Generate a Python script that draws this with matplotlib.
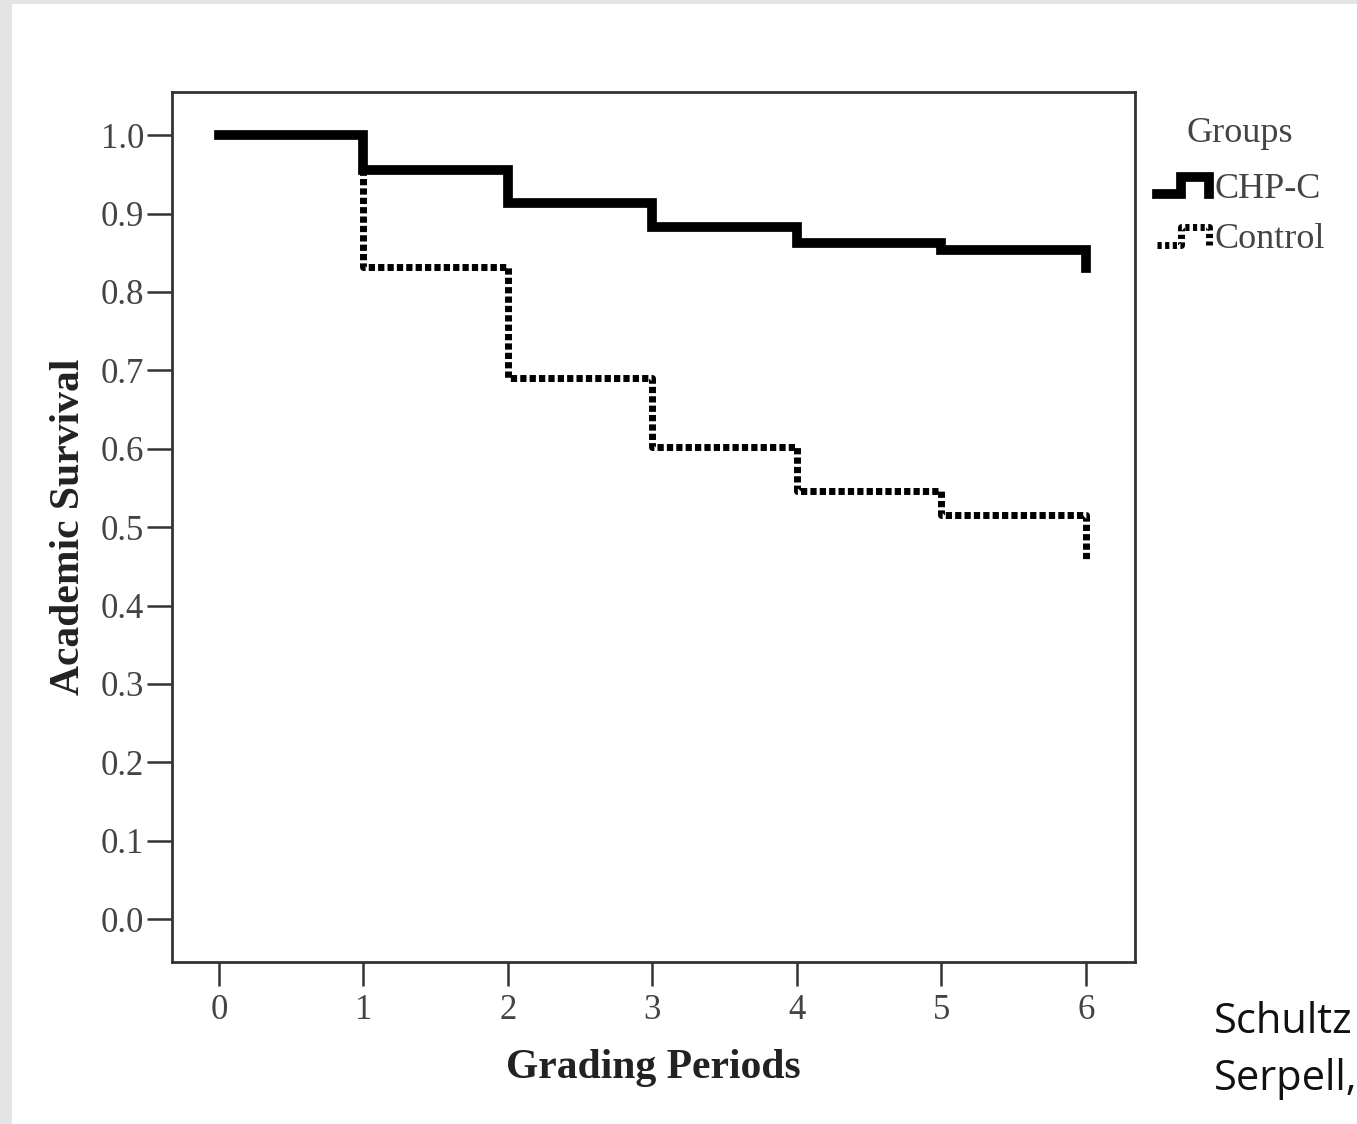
import matplotlib
matplotlib.use("Agg")
import matplotlib.pyplot as plt
from matplotlib.lines import Line2D
from matplotlib.patches import Rectangle
from matplotlib.legend_handler import HandlerBase

# grading periods and survival estimates
periods = [0, 1, 2, 3, 4, 5, 6]
chp_c = [1.0, 0.955, 0.913, 0.883, 0.863, 0.853, 0.83]
control = [1.0, 0.832, 0.690, 0.602, 0.546, 0.515, 0.458]
group_names = ["CHP-C", "Control"]
yticks = [0.0, 0.1, 0.2, 0.3, 0.4, 0.5, 0.6, 0.7, 0.8, 0.9, 1.0]

SERIF = "Liberation Serif"
DOT = (0, (0.9, 0.45))


class StepHandler(HandlerBase):
    # draws the little step glyph used in the legend
    def create_artists(self, legend, orig, xdescent, ydescent, width, height, fontsize, trans):
        x0, y0 = -xdescent, -ydescent
        lo, hi = y0 + 0.15 * height, y0 + 0.8 * height
        xs = [x0, x0 + 0.45 * width, x0 + 0.45 * width, x0 + width, x0 + width]
        ys = [lo, lo, hi, hi, lo]
        ls = orig.get_linestyle()
        if ls != "-":
            ls = (0, (0.6, 0.5))
        ln = Line2D(xs, ys, color="black", lw=orig.get_linewidth(),
                    linestyle=ls, solid_joinstyle="miter", dash_capstyle="butt",
                    transform=trans)
        return [ln]


fig = plt.figure(figsize=(13.57, 11.24), dpi=100, facecolor="#e3e4e5")
fig.patches.append(Rectangle((12 / 1357, 0), 1, 1 - 4 / 1124, transform=fig.transFigure,
                             facecolor="white", edgecolor="none", zorder=-5))

ax = fig.add_axes([0.1267, 0.1441, 0.7097, 0.7740])
ax.set_facecolor("white")

l2, = ax.step(periods, control, where="post", color="black", lw=5.0, linestyle=DOT,
              dash_capstyle="butt", label=group_names[1], zorder=2)
l1, = ax.step(periods, chp_c, where="post", color="black", lw=7.0,
              solid_joinstyle="miter", label=group_names[0], zorder=3)

ax.set_xlim(-0.325, 6.34)
ax.set_ylim(-0.0548, 1.055)
ax.set_xticks(periods)
ax.set_yticks(yticks)
ax.set_yticklabels([f"{v:.1f}" for v in yticks])

for s in ax.spines.values():
    s.set_color("#333333")
    s.set_linewidth(2.0)

ax.tick_params(axis="y", length=18, width=1.8, color="#333333", pad=2,
               labelsize=25, labelcolor="#444444")
ax.tick_params(axis="x", length=17, width=1.8, color="#333333", pad=6,
               labelsize=25, labelcolor="#444444")
for lab in ax.get_xticklabels() + ax.get_yticklabels():
    lab.set_fontfamily(SERIF)

ax.set_xlabel("Grading Periods", fontfamily=SERIF, fontweight="bold", fontsize=30,
              color="#222222", labelpad=16)
ax.set_ylabel("Academic Survival", fontfamily=SERIF, fontweight="bold", fontsize=30,
              color="#222222", labelpad=9)

fig.text(1240 / 1357, 1 - 133 / 1124, "Groups", fontfamily=SERIF, fontsize=26,
         color="#444444", ha="center", va="center")
leg = fig.legend(handles=[l1, l2], labels=group_names,
                 loc="upper left", bbox_to_anchor=(1157 / 1357, 1 - 172 / 1124),
                 frameon=False, handler_map={Line2D: StepHandler()},
                 handlelength=1.45, handleheight=0.75, handletextpad=0.15,
                 labelspacing=0.45, borderpad=0, borderaxespad=0,
                 prop={"family": SERIF, "size": 26})
for t in leg.get_texts():
    t.set_color("#444444")

fig.text(1214 / 1357, 1 - 1033 / 1124, "Schultz", fontfamily="Open Sans",
         fontsize=30, color="#111111", va="baseline", ha="left")
fig.text(1214 / 1357, 1 - 1090 / 1124, "Serpell,", fontfamily="Open Sans",
         fontsize=30, color="#111111", va="baseline", ha="left")

fig.savefig("out.png", dpi=100, facecolor=fig.get_facecolor())
